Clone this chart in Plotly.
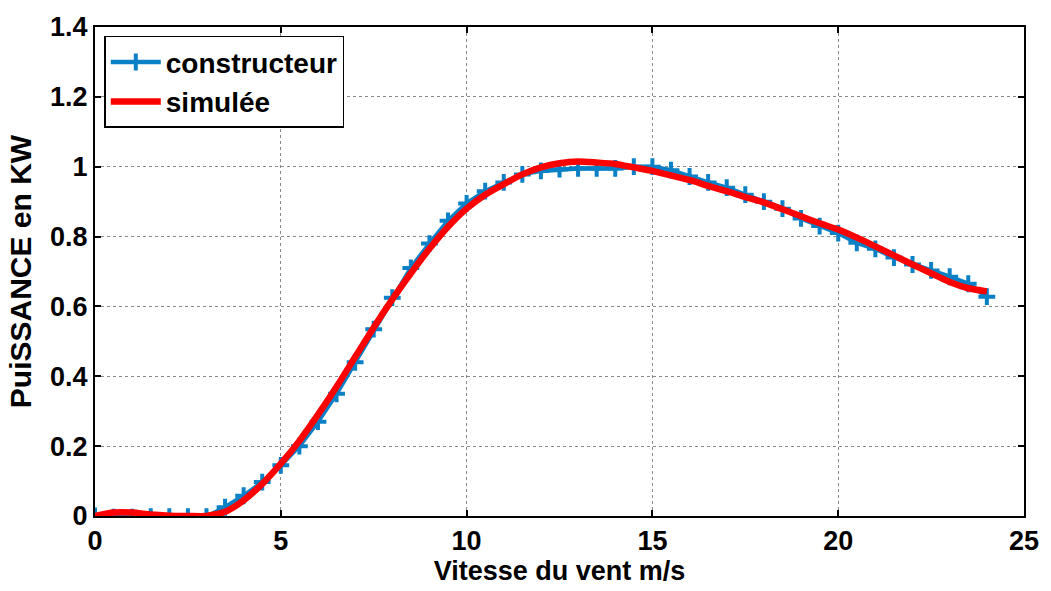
import plotly.graph_objects as go

# constructeur data (every 0.5 m/s)
x_constr = [0, 0.5, 1, 1.5, 2, 2.5, 3, 3.5, 4, 4.5, 5, 5.5, 6, 6.5, 7, 7.5, 8, 8.5, 9, 9.5,
            10, 10.5, 11, 11.5, 12, 12.5, 13, 13.5, 14, 14.5, 15, 15.5, 16, 16.5, 17, 17.5,
            18, 18.5, 19, 19.5, 20, 20.5, 21, 21.5, 22, 22.5, 23, 23.5, 24]
y_constr = [0, -0.003, -0.003, -0.002, -0.002, -0.002, -0.002, 0.025, 0.058, 0.097, 0.145, 0.2,
            0.27, 0.35, 0.44, 0.535, 0.625, 0.71, 0.78, 0.845, 0.895, 0.93, 0.955, 0.978,
            0.988, 0.993, 0.995, 0.995, 0.995, 1.0, 1.0, 0.99, 0.972, 0.955, 0.94, 0.92,
            0.9, 0.88, 0.852, 0.83, 0.81, 0.782, 0.765, 0.74, 0.72, 0.703, 0.685, 0.665, 0.628]

# simulated data
x_sim = [0, 0.5, 1, 1.5, 2, 2.5, 3, 3.5, 4, 4.5, 5, 5.5, 6, 6.5, 7, 7.5, 8, 8.5, 9, 9.5,
         10, 10.5, 11, 11.5, 12, 12.5, 13, 13.5, 14, 14.5, 15, 15.5, 16, 16.5, 17, 17.5,
         18, 18.5, 19, 19.5, 20, 20.5, 21, 21.5, 22, 22.5, 23, 23.5, 24]
y_sim = [0, 0.01, 0.01, 0.004, 0.001, 0.0, 0.0, 0.012, 0.045, 0.092, 0.15, 0.215,
         0.29, 0.37, 0.455, 0.54, 0.62, 0.695, 0.765, 0.828, 0.88, 0.92, 0.95, 0.978,
         0.998, 1.01, 1.015, 1.012, 1.008, 0.998, 0.988, 0.975, 0.962, 0.945, 0.93, 0.913,
         0.898, 0.878, 0.858, 0.838, 0.82, 0.797, 0.772, 0.746, 0.72, 0.695, 0.67, 0.652, 0.643]

x_ticks = [0, 5, 10, 15, 20, 25]
y_ticks = [0, 0.2, 0.4, 0.6, 0.8, 1, 1.2, 1.4]
y_tick_labels = ["0", "0.2", "0.4", "0.6", "0.8", "1", "1.2", "1.4"]

blue = "#0a80c6"
red = "#ff0000"
font_family = "Liberation Sans, Arial, sans-serif"

fig = go.Figure()
fig.add_trace(go.Scatter(
    x=x_constr, y=y_constr, mode="lines+markers", name="<b>constructeur</b>",
    line=dict(color=blue, width=4.5),
    marker=dict(symbol="cross-thin", size=12, color=blue, line=dict(color=blue, width=4)),
))
fig.add_trace(go.Scatter(
    x=x_sim, y=y_sim, mode="lines", name="<b>simulée</b>",
    line=dict(color=red, width=6.5, shape="spline", smoothing=0.6),
))

axis_common = dict(
    showline=True, linecolor="black", linewidth=2, mirror="ticks",
    ticks="inside", ticklen=6, tickcolor="black", tickwidth=1.5,
    showgrid=True, gridcolor="#8a8a8a", gridwidth=1, griddash="dot",
    zeroline=False,
    tickfont=dict(family=font_family, size=27, color="black", weight="bold"),
)

fig.update_layout(
    width=1051, height=591,
    margin=dict(l=95, r=19, t=25, b=75),
    paper_bgcolor="white", plot_bgcolor="white",
    font=dict(family=font_family, color="black"),
    showlegend=True,
    legend=dict(
        x=0.01, y=0.982, xanchor="left", yanchor="top",
        bgcolor="white", bordercolor="black", borderwidth=1.5,
        font=dict(family=font_family, size=28, color="black"),
        itemwidth=50, tracegroupgap=0,
    ),
    xaxis=dict(
        range=[0, 25], tickvals=x_ticks, ticktext=[str(v) for v in x_ticks],
        title=dict(text="<b>Vitesse du vent m/s</b>", standoff=4,
                   font=dict(family=font_family, size=27, color="black")),
        **axis_common,
    ),
    yaxis=dict(
        range=[0, 1.4], tickvals=y_ticks, ticktext=y_tick_labels,
        title=dict(text="<b>PuiSSANCE en KW</b>", standoff=10,
                   font=dict(family=font_family, size=30, color="black")),
        **axis_common,
    ),
)

fig.write_html("out.html")
